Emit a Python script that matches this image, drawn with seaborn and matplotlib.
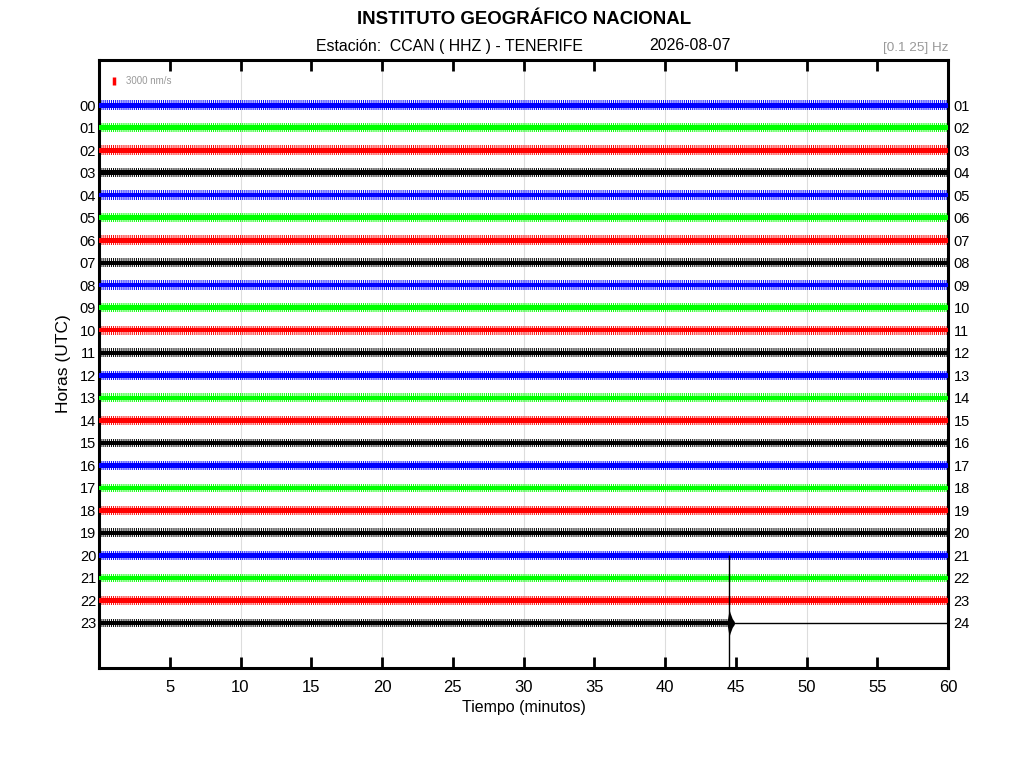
import numpy as np
import pandas as pd
import matplotlib
matplotlib.use("Agg")
import matplotlib.pyplot as plt
import seaborn as sns

# helicorder layout: one row per hour, traces
hours = list(range(24))
left_labels = ["%02d" % h for h in hours]
right_labels = ["%02d" % (h + 1) for h in hours]
row_colors = ["#0000ff", "#00ff00", "#ff0000", "#000000"]

# half-width of the dense core and of the spiky outer part of each trace (row units)
core_amp = [0.11, 0.11, 0.11, 0.10, 0.10, 0.10, 0.11, 0.09, 0.10, 0.10, 0.10, 0.09,
            0.10, 0.10, 0.10, 0.09, 0.10, 0.10, 0.10, 0.09, 0.10, 0.10, 0.10, 0.09]
peak_amp = [0.22, 0.20, 0.21, 0.21, 0.22, 0.19, 0.22, 0.20, 0.21, 0.19, 0.19, 0.20,
            0.21, 0.19, 0.19, 0.18, 0.20, 0.19, 0.20, 0.20, 0.19, 0.19, 0.20, 0.19]
trace_end = [60] * 23 + [44.5]   # last hour stops at the event

# the event in hour 23 (minutes, envelope half-width)
event_min = [44.40, 44.48, 44.53, 44.60, 44.75, 44.90]
event_amp = [0.10, 0.40, 0.60, 0.45, 0.20, 0.06]
event_line_from = 20            # vertical stroke starts at this row
tail_min = [44.6, 60]           # flat line after the data ends

grid_min = [10, 20, 30, 40, 50]
x_ticks = [5, 10, 15, 20, 25, 30, 35, 40, 45, 50, 55, 60]

sns.set_style("white")
plt.rcParams["font.family"] = ["Liberation Sans", "DejaVu Sans"]
plt.rcParams["text.color"] = "black"
plt.rcParams["axes.labelcolor"] = "black"
plt.rcParams["xtick.color"] = "black"
plt.rcParams["ytick.color"] = "black"
plt.rcParams["hatch.linewidth"] = 0.7

fig = plt.figure(figsize=(10.24, 7.68), dpi=100)
ax = fig.add_axes([99 / 1024, 1 - 668 / 768, 849 / 1024, 608 / 768])

for g in grid_min:
    ax.axvline(g, color="#dddddd", lw=0.8, zorder=0)

for h in hours:
    c = row_colors[h % 4]
    xs = [0, trace_end[h]]
    ax.fill_between(xs, h - peak_amp[h], h + peak_amp[h], facecolor="none",
                    edgecolor=c, hatch="|" * 8, lw=0, zorder=2)
    ax.fill_between(xs, h - core_amp[h], h + core_amp[h], color=c, lw=0, zorder=3)

ev = pd.DataFrame({"min": event_min, "amp": event_amp})
ax.fill_between(ev["min"], 23 - ev["amp"], 23 + ev["amp"], color="black", lw=0, zorder=3)
ax.vlines(event_min[2], event_line_from, 25, color="black", lw=1.0, zorder=4)
tail = pd.DataFrame({"min": tail_min, "row": [23, 23]})
sns.lineplot(data=tail, x="min", y="row", color="black", lw=1.0, ax=ax, zorder=4)

# amplitude scale bar
ax.vlines(1.05, -1.25, -0.9, color="red", lw=2.5, zorder=4)
ax.text(1.9, -1.07, "3000 nm/s", color="#999999", fontsize=7, va="center", ha="left")

ax.set_xlim(0, 60)
ax.set_ylim(25, -2)
ax.set_xticks(x_ticks)
ax.set_xticklabels([str(t) for t in x_ticks], fontsize=12)
ax.set_yticks(hours)
ax.set_yticklabels(left_labels, fontsize=10.5)
ax.tick_params(axis="x", direction="in", length=8, width=2, pad=9, top=True, bottom=True)
ax.tick_params(axis="y", length=0, pad=2)
ax.set_xlabel("Tiempo (minutos)", fontsize=11.5, labelpad=3)
ax.set_ylabel("Horas (UTC)", fontsize=12.5, labelpad=6)
for s in ax.spines.values():
    s.set_visible(True)
    s.set_linewidth(2.2)
    s.set_color("black")

ax2 = ax.twinx()
ax2.set_ylim(25, -2)
ax2.set_yticks(hours)
ax2.set_yticklabels(right_labels, fontsize=10.5)
ax2.tick_params(axis="y", length=0, pad=4)
for s in ax2.spines.values():
    s.set_visible(False)

fig.text(524 / 1024, 1 - 20 / 768, "INSTITUTO GEOGRÁFICO NACIONAL",
         ha="center", va="center", fontsize=13.4, fontweight="bold")
fig.text(316 / 1024, 1 - 46 / 768, "Estación:  CCAN ( HHZ ) - TENERIFE",
         ha="left", va="center", fontsize=11.4)
fig.text(649 / 1024, 1 - 46 / 768, "2026-08-07", ha="left", va="center", fontsize=11.4)
fig.text(948 / 1024, 1 - 48 / 768, "[0.1 25] Hz", ha="right", va="center",
         fontsize=9.7, color="#999999")

fig.savefig("out.png", dpi=100)
